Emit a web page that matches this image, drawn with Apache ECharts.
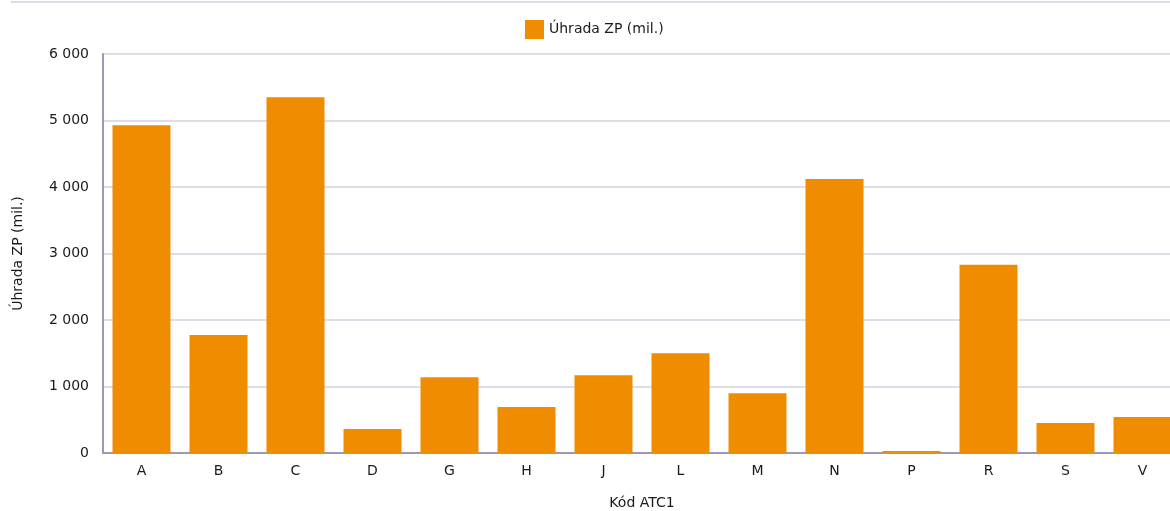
<!DOCTYPE html>
<html>
<head>
<meta charset="utf-8">
<script src="https://cdn.jsdelivr.net/npm/echarts@6/dist/echarts.min.js"></script>
<style>
html,body{margin:0;padding:0;background:#fff;}
#c{width:1170px;height:511px;}
</style>
</head>
<body>
<div id="c"></div>
<script>
const categories = ['A','B','C','D','G','H','J','L','M','N','P','R','S','V'];
const values = [4930, 1775, 5350, 360, 1140, 690, 1170, 1500, 900, 4120, 30, 2830, 450, 540];
const seriesName = 'Úhrada ZP (mil.)';
const yAxisName = 'Úhrada ZP (mil.)';
const xAxisName = 'Kód ATC1';

const FONT = 'DejaVu Sans';
const chart = echarts.init(document.getElementById('c'), null, {renderer: 'canvas'});
chart.setOption({
  animation: false,
  textStyle: {fontFamily: FONT},
  graphic: [{
    type: 'rect', left: 11, top: 1,
    shape: {width: 1170, height: 2},
    style: {fill: '#dcdce6'}
  }],
  legend: {
    left: 520, top: 15,
    itemWidth: 19, itemHeight: 19, itemGap: 8,
    icon: 'rect',
    textStyle: {fontFamily: FONT, fontSize: 14, color: '#1a1a1a'},
    data: [seriesName]
  },
  grid: {left: 103, top: 54, width: 1078, height: 399, containLabel: false, outerBoundsMode: 'none'},
  xAxis: {
    type: 'category',
    data: categories,
    name: xAxisName,
    nameLocation: 'middle',
    nameGap: 43,
    nameTextStyle: {fontFamily: FONT, fontSize: 14, color: '#1a1a1a'},
    axisLine: {lineStyle: {color: '#9a9ab8', width: 2}},
    axisTick: {show: false},
    axisLabel: {fontFamily: FONT, fontSize: 14, color: '#1a1a1a', margin: 11},
    splitLine: {show: false}
  },
  yAxis: {
    type: 'value',
    min: 0, max: 6000, interval: 1000,
    name: yAxisName,
    nameLocation: 'middle',
    nameGap: 78,
    nameRotate: 90,
    nameTextStyle: {fontFamily: FONT, fontSize: 14, color: '#1a1a1a'},
    axisLine: {show: true, lineStyle: {color: '#9a9ab8', width: 2}},
    axisTick: {show: false},
    axisLabel: {
      fontFamily: FONT, fontSize: 14, color: '#1a1a1a', margin: 14,
      formatter: v => String(v).replace(/\B(?=(\d{3})+(?!\d))/g, ' ')
    },
    splitLine: {lineStyle: {color: '#dedee8', width: 2}}
  },
  series: [{
    name: seriesName,
    type: 'bar',
    data: values,
    barWidth: 58,
    itemStyle: {color: '#f08c00'}
  }]
});
</script>
</body>
</html>
